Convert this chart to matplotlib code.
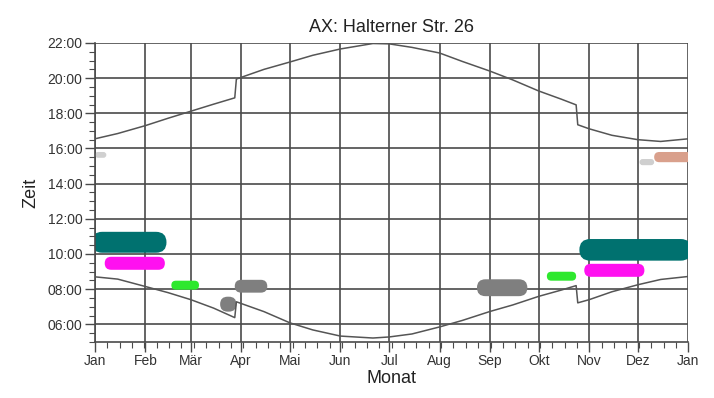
import matplotlib
matplotlib.use("Agg")
import matplotlib.pyplot as plt
from matplotlib.patches import FancyBboxPatch
from matplotlib.ticker import MultipleLocator, FuncFormatter

plt.rcParams['font.family'] = ['Liberation Sans Narrow', 'Liberation Sans', 'DejaVu Sans']

# Tag im Jahr (0 = 1. Jan)
month_days = [0, 31, 59, 90, 120, 151, 181, 212, 243, 273, 304, 334, 365]
month_labels = ['Jan', 'Feb', 'Mär', 'Apr', 'Mai', 'Jun', 'Jul', 'Aug',
                'Sep', 'Okt', 'Nov', 'Dez', 'Jan']

# Sonnenauf- / -untergang (Ortszeit, Stunden), Sprünge bei Zeitumstellung
sun_days = [0, 14, 31, 45, 59, 73, 86, 87, 104, 120, 134, 151, 171, 181,
            195, 212, 226, 243, 257, 273, 287, 296, 297, 304, 318, 334, 348, 365]
sunrise = [8.70, 8.57, 8.15, 7.80, 7.40, 6.92, 6.38, 7.28, 6.72, 6.08, 5.68,
           5.33, 5.22, 5.28, 5.45, 5.85, 6.22, 6.73, 7.10, 7.59, 7.95, 8.20,
           7.22, 7.40, 7.85, 8.25, 8.55, 8.72]
sunset = [16.55, 16.85, 17.30, 17.72, 18.12, 18.52, 18.88, 19.95, 20.50,
          20.92, 21.30, 21.66, 21.97, 21.95, 21.75, 21.43, 20.95, 20.40,
          19.90, 19.27, 18.80, 18.48, 17.35, 17.12, 16.75, 16.50, 16.40, 16.55]

# Schattenwurf-Zeiträume
shadow_start = [-2, 6, 47, 86, 77, 0, 235, 278, 301, 298, 344, 335]
shadow_end = [44, 43, 64, 106, 87, 7, 266, 296, 338, 367, 367, 344]
shadow_low = [10.07, 9.10, 7.97, 7.80, 6.72, 15.47, 7.60, 8.48, 8.70, 9.62, 15.22, 15.05]
shadow_high = [11.26, 9.84, 8.48, 8.53, 7.57, 15.80, 8.56, 8.99, 9.44, 10.85, 15.80, 15.40]
shadow_color = ['#00716f', '#ff10f0', '#2ee82e', '#7f7f7f', '#7f7f7f', '#d0d0d0',
                '#7f7f7f', '#2ee82e', '#ff10f0', '#00716f', '#d9a08c', '#cfcfcf']

fig = plt.figure(figsize=(7.14, 3.98), dpi=100)
ax = fig.add_axes([0.133, 0.141, 0.831, 0.751])

ax.set_xlim(0, 365)
ax.set_ylim(5, 22)

# Stunden pro Tag bei gleicher Pixellänge, für runde Ecken
aspect = (593 / 365) / (300 / 17)

for s, e, lo, hi, c in zip(shadow_start, shadow_end, shadow_low, shadow_high, shadow_color):
    r = min((hi - lo) / 2 / aspect, (e - s) / 2)
    p = FancyBboxPatch((s, lo), e - s, hi - lo,
                       boxstyle="round,pad=0,rounding_size=%f" % r,
                       mutation_aspect=aspect, facecolor=c, edgecolor='none',
                       zorder=2, clip_on=True)
    ax.add_patch(p)

ax.plot(sun_days, sunrise, color='#555555', lw=1.1, zorder=3)
ax.plot(sun_days, sunset, color='#555555', lw=1.1, zorder=3)

ax.set_xticks(month_days)
ax.set_xticklabels(month_labels)
ax.xaxis.set_minor_locator(MultipleLocator(365 / 48))
ax.yaxis.set_minor_locator(MultipleLocator(0.5))
ax.set_yticks([6, 8, 10, 12, 14, 16, 18, 20, 22])
ax.yaxis.set_major_formatter(FuncFormatter(lambda v, p: "%02d:00" % v))

ax.grid(True, which='major', color='#4a4a4a', lw=1.2)
ax.set_axisbelow(True)
for sp in ['top', 'right']:
    ax.spines[sp].set_visible(False)
for sp in ['left', 'bottom']:
    ax.spines[sp].set_color('#4a4a4a')
    ax.spines[sp].set_linewidth(1.2)

ax.tick_params(which='major', length=7, width=1.0, color='#4a4a4a',
               labelsize=10, labelcolor='#333333', pad=2)
ax.tick_params(which='minor', length=4, width=0.8, color='#4a4a4a')

ax.set_title("AX: Halterner Str. 26", fontsize=13, color='#222222', pad=8)
ax.set_xlabel("Monat", fontsize=13, color='#222222', labelpad=1)
ax.set_ylabel("Zeit", fontsize=13, color='#222222', labelpad=6)

fig.savefig("out.png", dpi=100)
